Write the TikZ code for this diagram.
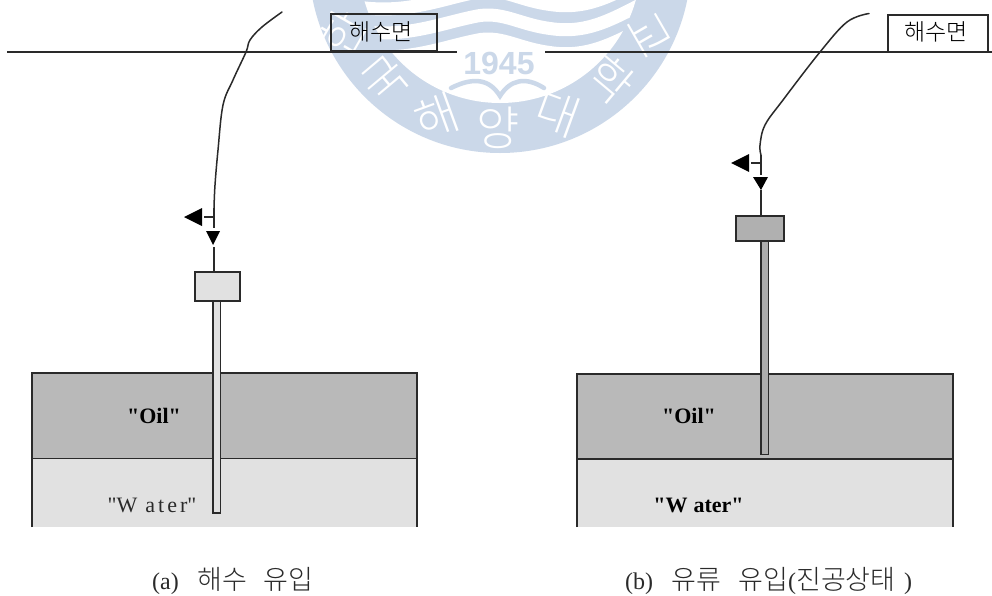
\documentclass[tikz,border=0pt]{standalone}
\usepackage{fontspec}
\setmainfont{Liberation Serif}
\newfontfamily\plainser{Liberation Serif}
\newfontfamily\krlight{Noto Sans CJK KR Light}
\newfontfamily\sansf{Liberation Sans}
\definecolor{seal}{HTML}{CBD8E9}
\definecolor{oilc}{HTML}{B9B9B9}
\definecolor{waterc}{HTML}{E1E1E1}
\definecolor{inka}{HTML}{2A2A2A}
\tikzset{
 px/.style={x=1pt,y=-1pt},
 ink/.style={draw=inka,line width=1.5pt},
 thinink/.style={draw=inka,line width=1.5pt},
 lab/.style={font=\fontsize{23}{23}\selectfont\krlight,text=black,inner sep=0pt,anchor=center},
 caption/.style={font=\fontsize{24}{26}\selectfont,text=inka,inner sep=0pt,anchor=base west},
 krcap/.style={font=\fontsize{27}{28}\selectfont\krlight,text=inka,inner sep=0pt,anchor=base west},
 liquid/.style={font=\fontsize{22}{22}\selectfont\plainser,text=inka,inner sep=0pt},
 liquidb/.style={font=\fontsize{22}{22}\selectfont\plainser\bfseries,text=black,inner sep=0pt},
 sealglyph/.style={font=\fontsize{47}{47}\selectfont\krlight,text=white,inner sep=0pt},
 tip/.style={fill=black,draw=none},
}
\begin{document}
\begin{tikzpicture}[px]
\useasboundingbox (0,0) rectangle (992,595);
\fill[white] (0,0) rectangle (992,595);
% watermark
\begin{scope}
\clip (0,0) rectangle (992,595);
\fill[seal] (500,-38) circle (191);
\begin{scope}
\clip (500,-38) circle (141);
\fill[white] (340,45) .. controls (400,60) and (440,40) .. (480,33) .. controls (505,30) and (520,42) .. (550,46) .. controls (590,52) and (615,35) .. (660,12) -- (660,120) -- (340,120) -- cycle;
\draw[white,line width=13pt] (340,27.5) .. controls (400,42.5) and (440,22.5) .. (480,15.5) .. controls (505,12.5) and (520,24.5) .. (550,28.5) .. controls (590,34.5) and (615,17.5) .. (660,-5.5);
\draw[white,line width=13pt] (340,3.5) .. controls (400,18.5) and (440,-1.5) .. (480,-8.5) .. controls (505,-11.5) and (520,0.5) .. (550,4.5) .. controls (590,10.5) and (615,-6.5) .. (660,-29.5);
\end{scope}
\node[sealglyph,rotate=60] (s1) at (343,33) {한};
\node[sealglyph,rotate=40] (s2) at (385,80) {국};
\node[sealglyph,rotate=20] (s3) at (437,117) {해};
\node[sealglyph] (s4) at (498,128) {양};
\node[sealglyph,rotate=-20] (s5) at (558,113) {대};
\node[sealglyph,rotate=-40] (s6) at (610,80) {학};
\node[sealglyph,rotate=-60] (s7) at (649,35) {교};
\node[font=\fontsize{32}{32}\selectfont\sansf\bfseries,text=seal,inner sep=0pt] (year) at (499,63) {1945};
\draw[seal,line width=4.5pt,line cap=round] (451,88) .. controls (475,76) and (490,80) .. (500,96) .. controls (510,80) and (525,76) .. (544,88);
\end{scope}
% left panel
\coordinate (seaLa) at (7,52);
\coordinate (seaLb) at (457,52);
\draw[thinink] (seaLa) -- (seaLb);
\node[ink,fill=none,minimum width=106pt,minimum height=37pt,inner sep=0pt] (boxL) at (384,32.5) {};
\node[lab] (boxLt) at (381,32) {해수면};
\fill[oilc] (32,373) rectangle (417,458.5);
\fill[waterc] (32,458.5) rectangle (417,527);
\coordinate (oilTL) at (32,373); \coordinate (oilTR) at (417,373);
\coordinate (oilML) at (32,458.5); \coordinate (oilMR) at (417,458.5);
\coordinate (oilBL) at (32,527); \coordinate (oilBR) at (417,527);
\draw[ink] (oilBL) -- (oilML) -- (oilTL) -- (oilTR) -- (oilMR) -- (oilBR);
\draw[ink] (oilML) -- (oilMR);
\node[ink,fill=waterc,minimum width=7.5pt,minimum height=212pt,inner sep=0pt] (tubeL) at (216.8,407) {};
\node[ink,fill=waterc,minimum width=45pt,minimum height=29pt,inner sep=0pt] (headL) at (217.5,286.5) {};
\coordinate (stemLa) at (214,208);
\coordinate (stemLb) at (214,228);
\coordinate (stemLc) at (214,247);
\coordinate (sideL) at (204,217);
\coordinate (stemLt) at (214,217);
\draw[thinink,line cap=round] plot[smooth,tension=0.6] coordinates {(282,12) (262,27) (250,40) (246,52) (233,80) (223,105) (218,150) (215,185) (stemLa)};
\draw[ink] (stemLa) -- (stemLb);
\draw[ink] (stemLt) -- (sideL);
\draw[ink] (stemLc) -- (headL.north -| stemLc);
\fill[tip] (184,217) -- (202,208) -- (202,226) -- cycle;
\fill[tip] (206,231) -- (220,231) -- (213,245) -- cycle;
\node[liquidb] (oilL) at (154,416) {"Oil"};
\node[liquid] (waterL) at (152,505) {"W\kern8pt a\kern3pt t\kern3pt e\kern3pt r"};
\node[caption] (capLa) at (152,589) {(a)};
\node[krcap] (capLb) at (197.5,589) {해수};
\node[krcap] (capLc) at (263,589) {유입};
% right panel
\coordinate (seaRa) at (545,52);
\coordinate (seaRb) at (992,52);
\draw[thinink] (seaRa) -- (seaRb);
\node[ink,fill=white,minimum width=100pt,minimum height=37pt,inner sep=0pt] (boxR) at (938,33.5) {};
\node[lab] (boxRt) at (936,32) {해수면};
\fill[oilc] (577,374) rectangle (953,459);
\fill[waterc] (577,459) rectangle (953,527);
\coordinate (oTL) at (577,374); \coordinate (oTR) at (953,374);
\coordinate (oML) at (577,459); \coordinate (oMR) at (953,459);
\coordinate (oBL) at (577,527); \coordinate (oBR) at (953,527);
\draw[ink] (oBL) -- (oML) -- (oTL) -- (oTR) -- (oMR) -- (oBR);
\draw[ink] (oML) -- (oMR);
\node[ink,fill=black!32,minimum width=7.5pt,minimum height=213pt,inner sep=0pt] (tubeR) at (764.5,348) {};
\node[ink,fill=black!31,minimum width=48pt,minimum height=25pt,inner sep=0pt] (headR) at (760,228.5) {};
\coordinate (stemRa) at (761,155);
\coordinate (stemRb) at (761,175);
\coordinate (stemRc) at (761,190);
\coordinate (stemRt) at (761,163);
\coordinate (sideR) at (751,163);
\draw[thinink,line cap=round] plot[smooth,tension=0.6] coordinates {(869,13.5) (847,22) (820,52) (783,100) (765,125) (760,145) (stemRa)};
\draw[ink] (stemRa) -- (stemRb);
\draw[ink] (stemRt) -- (sideR);
\draw[ink] (stemRc) -- (headR.north -| stemRc);
\fill[tip] (731,163) -- (749,154) -- (749,172) -- cycle;
\fill[tip] (753,177) -- (768,177) -- (761,190) -- cycle;
\node[liquidb] (oilR) at (689,416) {"Oil"};
\node[liquidb] (waterR) at (698.5,505) {"W\kern6pt ater"};
\node[caption] (capRa) at (625,589) {(b)};
\node[krcap] (capRb) at (671.5,589) {유류};
\node[krcap] (capRc) at (738,589) {유입};
\node[caption] (capRd) at (788,589) {(};
\node[krcap] (capRe) at (796,589) {진공상태};
\node[caption] (capRf) at (904,589) {)};
\end{tikzpicture}
\end{document}
